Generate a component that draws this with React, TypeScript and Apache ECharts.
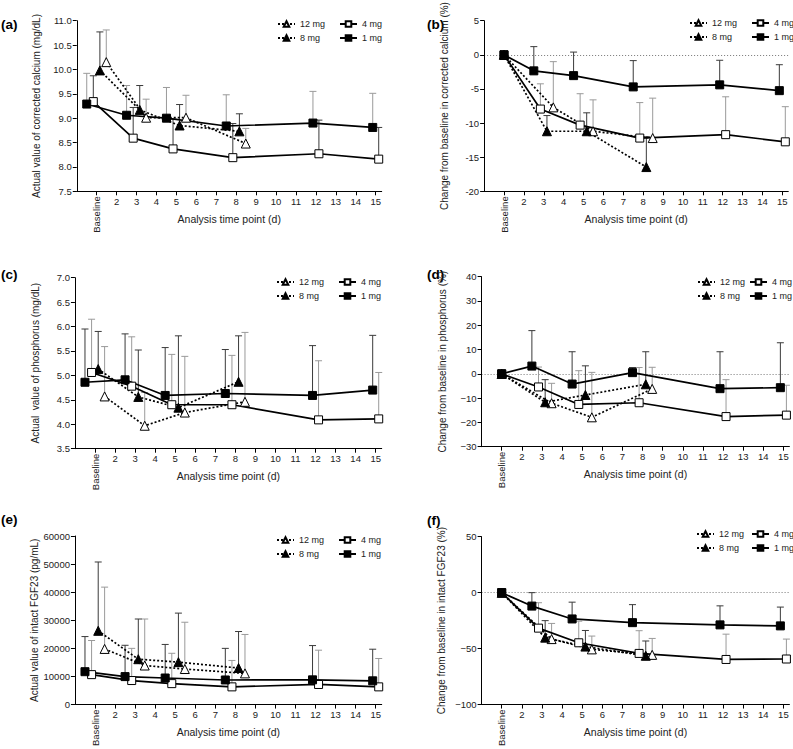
import React, { useEffect, useRef } from 'react';
import * as echarts from 'echarts';

// ---------- data ----------
const xTickValues = [1, 2, 3, 4, 5, 6, 7, 8, 9, 10, 11, 12, 13, 14, 15];
const xNumberLabels = [2, 3, 4, 5, 6, 7, 8, 9, 10, 11, 12, 13, 14, 15];
const baselineTick = [1];
const doseNames = ['12 mg', '8 mg', '4 mg', '1 mg'];

// time positions (Baseline = 1), per dose group
const x1mgAbs = [0.5, 2.5, 4.5, 7.5, 11.85, 14.85];
const x4mgAbs = [0.83, 2.83, 4.83, 7.83, 12.15, 15.15];
const x8mgAbs = [1.16, 3.16, 5.16, 8.16];
const x12mgAbs = [1.48, 3.48, 5.48, 8.48];
const x1mgChg = [1, 2.5, 4.5, 7.5, 11.85, 14.85];
const x4mgChg = [1, 2.83, 4.83, 7.83, 12.15, 15.15];
const x8mgChg = [1, 3.16, 5.16, 8.16];
const x12mgChg = [1, 3.48, 5.48, 8.48];

// (a) corrected calcium, mg/dL (mean, mean+SD)
const a1 = [9.29, 9.06, 9.0, 8.84, 8.9, 8.81];
const a1e = [9.92, 9.67, 9.63, 9.48, 9.55, 9.51];
const a4 = [9.34, 8.59, 8.37, 8.19, 8.27, 8.16];
const a4e = [9.87, 9.22, 8.98, 8.89, 8.96, 8.81];
const a8 = [9.98, 9.17, 8.85, 8.73];
const a8e = [10.77, 9.67, 9.28, 9.09];
const a12 = [10.15, 9.01, 9.01, 8.48];
const a12e = [10.81, 9.39, 9.47, 8.79];

// (b) change in corrected calcium, %
const b1 = [0, -2.35, -3.05, -4.7, -4.4, -5.25];
const b1e = [0, 1.2, 0.4, -0.85, -0.8, -1.45];
const b4 = [0, -7.95, -10.3, -12.2, -11.7, -12.75];
const b4e = [0, -4.25, -5.7, -7.0, -6.15, -7.6];
const b8 = [0, -11.2, -11.2, -16.45];
const b8e = [0, -8.9, -8.5, -12.0];
const b12 = [0, -7.7, -11.2, -12.2];
const b12e = [0, -1.0, -6.6, -6.35];

// (c) phosphorus, mg/dL
const c1 = [4.86, 4.91, 4.59, 4.63, 4.59, 4.7];
const c1e = [5.95, 5.85, 5.57, 5.53, 5.61, 5.82];
const c4 = [5.06, 4.78, 4.4, 4.4, 4.09, 4.11];
const c4e = [6.15, 5.79, 5.43, 5.41, 5.3, 5.06];
const c8 = [5.13, 4.56, 4.34, 4.87];
const c8e = [5.9, 5.52, 5.81, 5.81];
const c12 = [4.57, 3.97, 4.24, 4.46];
const c12e = [5.59, 4.65, 5.39, 5.88];

// (d) change in phosphorus, %
const d1 = [0, 3.2, -4.2, 0.5, -6.1, -5.7];
const d1e = [0, 17.8, 9.1, 2.6, 9.1, 12.8];
const d4 = [0, -5.4, -12.6, -11.9, -17.6, -17.0];
const d4e = [0, 2.8, 1.3, 2.6, -2.4, -4.7];
const d8 = [0, -11.7, -8.7, -4.3];
const d8e = [0, -2.4, 3.3, 9.1];
const d12 = [0, -12.1, -17.9, -6.2];
const d12e = [0, -3.9, 0.6, 2.7];

// (e) intact FGF23, pg/mL
const e1 = [11700, 9950, 9450, 8750, 8800, 8450];
const e1e = [24200, 21100, 21400, 20000, 21000, 19700];
const e4 = [10650, 8550, 7450, 6300, 7150, 6300];
const e4e = [22800, 20000, 18250, 15700, 19350, 16400];
const e8 = [26250, 16150, 15100, 13000];
const e8e = [50750, 30450, 32550, 26000];
const e12 = [19800, 13900, 12650, 11100];
const e12e = [41800, 30450, 29300, 24950];

// (f) change in intact FGF23, %
const f1 = [0, -12, -23.5, -26.8, -28.8, -29.7];
const f1e = [0, 0, -8.5, -10.7, -11.8, -12.9];
const f4 = [0, -31.7, -44.8, -54.3, -59.7, -59.3];
const f4e = [0, -9.0, -25.5, -34.0, -37.1, -41.5];
const f8 = [0, -40.2, -48.2, -56.4];
const f8e = [0, -25, -33.8, -43.2];
const f12 = [0, -41.5, -50.7, -55.6];
const f12e = [0, -27.5, -38.8, -40.9];

// ---------- layout / style ----------
const FONT = '"Liberation Sans", Arial, Helvetica, sans-serif';
const DARK = '#3a3a3a';
const GRAY = '#9a9a9a';

type Panel = {
  label: string;
  lx: number; ly: number;
  xb: number; unit: number; top: number; height: number;
  ymin: number; ymax: number; yint: number;
  yname: string; nameGap: number;
  fmt: (v: number) => string;
  zero: boolean;
  leg: [number, number, number]; // left col x, right col x, top
  errCol: [string, string, string, string]; // 12, 8, 4, 1
  xs: number[][]; ys: number[][]; es: number[][];
};

const minus = (v: number) => (v < 0 ? '\u2212' + Math.abs(v) : String(v));

const panels: Panel[] = [
  {
    label: '(a)', lx: 1, ly: 17, xb: 96.7, unit: 19.93, top: 20.7, height: 170.6,
    ymin: 7.5, ymax: 11, yint: 0.5, yname: 'Actual value of corrected calcium (mg/dL)', nameGap: 35,
    fmt: (v) => v.toFixed(1), zero: false, leg: [277, 339, 19],
    errCol: [GRAY, DARK, DARK, GRAY],
    xs: [x12mgAbs, x8mgAbs, x4mgAbs, x1mgAbs], ys: [a12, a8, a4, a1], es: [a12e, a8e, a4e, a1e],
  },
  {
    label: '(b)', lx: 427, ly: 17, xb: 504, unit: 19.88, top: 20.7, height: 170.6,
    ymin: -20, ymax: 5, yint: 5, yname: 'Change from baseline in corrected calcium (%)', nameGap: 35,
    fmt: (v) => String(v), zero: true, leg: [689, 751, 18],
    errCol: [GRAY, DARK, GRAY, DARK],
    xs: [x12mgChg, x8mgChg, x4mgChg, x1mgChg], ys: [b12, b8, b4, b1], es: [b12e, b8e, b4e, b1e],
  },
  {
    label: '(c)', lx: 1, ly: 267, xb: 95, unit: 20.05, top: 277.7, height: 171,
    ymin: 3.5, ymax: 7, yint: 0.5, yname: 'Actual  value of phosphorus (mg/dL)', nameGap: 34,
    fmt: (v) => v.toFixed(1), zero: false, leg: [276, 338, 277],
    errCol: [GRAY, DARK, GRAY, DARK],
    xs: [x12mgAbs, x8mgAbs, x4mgAbs, x1mgAbs], ys: [c12, c8, c4, c1], es: [c12e, c8e, c4e, c1e],
  },
  {
    label: '(d)', lx: 427, ly: 267, xb: 501.7, unit: 20.12, top: 276.7, height: 170,
    ymin: -30, ymax: 40, yint: 10, yname: 'Change from baseline in phosphorus (%)', nameGap: 34,
    fmt: minus, zero: true, leg: [697, 749, 277],
    errCol: [GRAY, DARK, GRAY, DARK],
    xs: [x12mgChg, x8mgChg, x4mgChg, x1mgChg], ys: [d12, d8, d4, d1], es: [d12e, d8e, d4e, d1e],
  },
  {
    label: '(e)', lx: 1, ly: 512, xb: 95, unit: 20.05, top: 536, height: 170.7,
    ymin: 0, ymax: 60000, yint: 10000, yname: 'Actual value of intact FGF23 (pg/mL)', nameGap: 34,
    fmt: (v) => String(v), zero: false, leg: [276, 338, 535],
    errCol: [GRAY, DARK, GRAY, DARK],
    xs: [x12mgAbs, x8mgAbs, x4mgAbs, x1mgAbs], ys: [e12, e8, e4, e1], es: [e12e, e8e, e4e, e1e],
  },
  {
    label: '(f)', lx: 427, ly: 513, xb: 501.7, unit: 20.12, top: 536.7, height: 170,
    ymin: -100, ymax: 50, yint: 50, yname: 'Change from baseline in intact FGF23 (%)', nameGap: 35,
    fmt: minus, zero: true, leg: [696, 751, 529],
    errCol: [GRAY, DARK, GRAY, DARK],
    xs: [x12mgChg, x8mgChg, x4mgChg, x1mgChg], ys: [f12, f8, f4, f1], es: [f12e, f8e, f4e, f1e],
  },
];

const XMAX = 15.3;

const seriesStyle = [
  { symbol: 'triangle', size: 9, fill: '#ffffff', dash: [2, 2] as any },
  { symbol: 'triangle', size: 9, fill: '#000000', dash: [2, 2] as any },
  { symbol: 'rect', size: 8, fill: '#ffffff', dash: 'solid' as any },
  { symbol: 'rect', size: 8, fill: '#000000', dash: 'solid' as any },
];

function buildOption() {
  const grid: any[] = [];
  const xAxis: any[] = [];
  const yAxis: any[] = [];
  const series: any[] = [];
  const legend: any[] = [];
  const graphic: any[] = [];

  panels.forEach((p, i) => {
    const left = p.xb - p.unit;
    grid.push({ left, top: p.top, width: p.unit * XMAX, height: p.height, containLabel: false });
    xAxis.push({
      type: 'value', gridIndex: i, min: 0, max: XMAX, position: 'bottom',
      name: 'Analysis time point (d)', nameLocation: 'middle', nameGap: 22,
      nameTextStyle: { fontSize: 10.5, color: '#222', fontFamily: FONT },
      axisLine: { show: true, onZero: false, lineStyle: { color: '#000', width: 1 } },
      axisTick: { show: true, customValues: xTickValues, length: 4, lineStyle: { color: '#000' } },
      axisLabel: { customValues: xNumberLabels, fontSize: 9.5, color: '#222', margin: 5, fontFamily: FONT },
      splitLine: { show: false },
    });
    xAxis.push({
      type: 'value', gridIndex: i, min: 0, max: XMAX, position: 'bottom',
      axisLine: { show: false }, axisTick: { show: false },
      axisLabel: { customValues: baselineTick, rotate: 90, formatter: () => 'Baseline', fontSize: 9.5, color: '#222', margin: 5, fontFamily: FONT },
      splitLine: { show: false },
    });
    yAxis.push({
      type: 'value', gridIndex: i, min: p.ymin, max: p.ymax, interval: p.yint,
      name: p.yname, nameLocation: 'middle', nameGap: p.nameGap,
      nameTextStyle: { fontSize: 10, color: '#222', fontFamily: FONT },
      axisLine: { show: true, onZero: false, lineStyle: { color: '#000', width: 1 } },
      axisTick: { show: true, length: 4, lineStyle: { color: '#000' } },
      axisLabel: { formatter: p.fmt, fontSize: 9.5, color: '#222', margin: 5, fontFamily: FONT },
      splitLine: { show: false },
    });

    // error bars (mean + SD, upper only)
    p.xs.forEach((xs, k) => {
      const color = p.errCol[k];
      series.push({
        type: 'custom', name: 'err' + i + '-' + k, xAxisIndex: 2 * i, yAxisIndex: i, z: 1,
        silent: true,
        dimensions: ['x', 'y', 'hi'],
        encode: { x: 0, y: 1 },
        data: xs.map((x, j) => [x, p.ys[k][j], p.es[k][j]]),
        renderItem: (params: any, api: any) => {
          const x = api.value(0);
          const y = api.value(1);
          const hi = api.value(2);
          if (hi === y) return { type: 'group', children: [] };
          const p0 = api.coord([x, y]);
          const p1 = api.coord([x, hi]);
          const st = { stroke: color, lineWidth: 1 };
          return {
            type: 'group',
            children: [
              { type: 'line', shape: { x1: p0[0], y1: p0[1], x2: p1[0], y2: p1[1] }, style: st },
              { type: 'line', shape: { x1: p1[0] - 3.5, y1: p1[1], x2: p1[0] + 3.5, y2: p1[1] }, style: st },
            ],
          };
        },
      });
    });

    // mean lines
    p.xs.forEach((xs, k) => {
      const s = seriesStyle[k];
      const ser: any = {
        type: 'line', name: doseNames[k], xAxisIndex: 2 * i, yAxisIndex: i, z: 3,
        data: xs.map((x, j) => [x, p.ys[k][j]]),
        symbol: s.symbol, symbolSize: s.size, showAllSymbol: true,
        itemStyle: { color: s.fill, borderColor: '#000', borderWidth: 1 },
        lineStyle: { color: '#000', width: 1.7, type: s.dash },
        emphasis: { disabled: true },
      };
      if (p.zero && k === 3) {
        ser.markLine = {
          silent: true, symbol: 'none', label: { show: false },
          lineStyle: { color: '#777', type: [1, 2], width: 1 },
          data: [{ yAxis: 0 }],
          z: 0,
        };
      }
      series.push(ser);
    });

    const legCommon = {
      orient: 'vertical', top: p.leg[2], itemGap: 4, itemWidth: 17, itemHeight: 7, padding: 0,
      textStyle: { fontSize: 9, color: '#222', fontFamily: FONT, lineHeight: 10 },
      selectedMode: false,
    };
    legend.push({ ...legCommon, left: p.leg[0], data: ['12 mg', '8 mg'] });
    legend.push({ ...legCommon, left: p.leg[1], data: ['4 mg', '1 mg'] });

    graphic.push({
      type: 'text', left: p.lx, top: p.ly,
      style: { text: p.label, fontSize: 13.5, fontWeight: 'bold', fill: '#000', fontFamily: FONT },
    });
  });

  return {
    animation: false,
    backgroundColor: '#ffffff',
    textStyle: { fontFamily: FONT },
    grid, xAxis, yAxis, series, legend, graphic,
  };
}

export default function App() {
  const ref = useRef<HTMLDivElement>(null);
  useEffect(() => {
    if (!ref.current) return;
    const chart = echarts.init(ref.current, undefined, { renderer: 'svg' });
    chart.setOption(buildOption() as any);
    return () => chart.dispose();
  }, []);
  return (
    <div
      ref={ref}
      style={{ position: 'absolute', left: 0, top: 0, width: 793, height: 749, background: '#fff' }}
    />
  );
}
